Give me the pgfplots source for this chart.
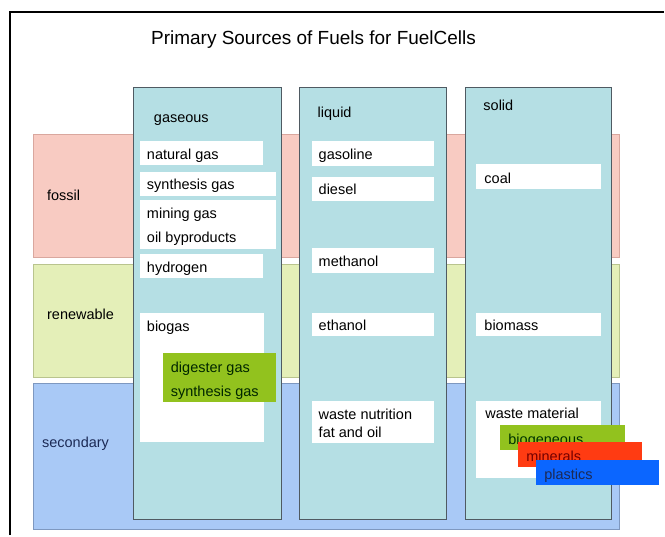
\documentclass[border=0pt]{standalone}
\usepackage{pgfplots}
\pgfplotsset{compat=1.18}
\usepackage{fontspec}
\setmainfont{Liberation Sans}
\definecolor{bandpink}{HTML}{F8CBC2}
\definecolor{bandpinkd}{HTML}{D9A79E}
\definecolor{bandgreen}{HTML}{E4EFB8}
\definecolor{bandgreend}{HTML}{B9C48E}
\definecolor{bandblue}{HTML}{A9C9F6}
\definecolor{bandblued}{HTML}{7E98C0}
\definecolor{colfill}{HTML}{B5DFE4}
\definecolor{coldraw}{HTML}{4F5A62}
\definecolor{limegreen}{HTML}{92C21E}
\definecolor{minred}{HTML}{FF3B12}
\definecolor{plasblue}{HTML}{0B66FF}
\definecolor{navytext}{HTML}{1C2A55}
\newcommand{\rect}[5]{\addplot[#1] coordinates {(#2,#3) (#4,#3) (#4,#5) (#2,#5)} -- cycle;}
\newcommand{\lab}[4][black]{\node[anchor=base west,inner sep=0pt,text=#1,font=\fontsize{14.5}{16}\selectfont] at (axis cs:#2,#3+5.5) {#4};}
\begin{document}
\begin{tikzpicture}
\begin{axis}[
  scale only axis, width=665pt, height=536pt,
  xmin=0, xmax=665, ymin=0, ymax=536, y dir=reverse,
  hide axis, clip=false,
  every axis plot/.append style={mark=none}
]
% background
\rect{fill=white, draw=none}{0}{0}{665}{536}
% outer border
\addplot[black, line width=2pt] coordinates {(10,536) (10,12) (665,12)};
% bands
\rect{fill=bandpink, draw=bandpinkd, line width=0.8pt}{33}{135}{620}{258}
\rect{fill=bandgreen, draw=bandgreend, line width=0.8pt}{33}{265}{620}{378}
\rect{fill=bandblue, draw=bandblued, line width=0.8pt}{33}{384}{620}{530}
% columns
\rect{fill=colfill, draw=coldraw, line width=0.9pt}{134}{88}{282}{520}
\rect{fill=colfill, draw=coldraw, line width=0.9pt}{300}{88}{447}{520}
\rect{fill=colfill, draw=coldraw, line width=0.9pt}{466}{88}{612}{520}
% white boxes: gaseous
\rect{fill=white, draw=none}{140}{141}{263}{165}
\rect{fill=white, draw=none}{140}{172}{276}{196}
\rect{fill=white, draw=none}{140}{200}{276}{249}
\rect{fill=white, draw=none}{140}{254}{263}{278}
\rect{fill=white, draw=none}{140}{313}{264}{443}
% liquid
\rect{fill=white, draw=none}{312}{141}{435}{166}
\rect{fill=white, draw=none}{312}{177}{435}{201}
\rect{fill=white, draw=none}{312}{248}{435}{273}
\rect{fill=white, draw=none}{312}{313}{435}{337}
\rect{fill=white, draw=none}{312}{402}{435}{444}
% solid
\rect{fill=white, draw=none}{477}{164}{602}{189}
\rect{fill=white, draw=none}{477}{313}{602}{337}
\rect{fill=white, draw=none}{477}{402}{602}{479}
% title
\node[anchor=base,inner sep=0pt,font=\fontsize{19}{21}\selectfont] at (axis cs:314,45) {Primary Sources of Fuels for FuelCells};
% row labels
\lab{47}{195}{fossil}
\lab{47}{314}{renewable}
\lab[navytext]{42}{443}{secondary}
% column headers
\lab{154}{117}{gaseous}
\lab{318}{112}{liquid}
\lab{484}{105}{solid}
% gaseous entries
\lab{147}{154}{natural gas}
\lab{147}{184}{synthesis gas}
\lab{147}{213}{mining gas}
\lab{147}{237}{oil byproducts}
\lab{147}{267}{hydrogen}
\lab{147}{326}{biogas}
\rect{fill=limegreen, draw=none}{163}{354}{276}{403}
\lab[black!85!green]{171}{368}{digester gas}
\lab[black!85!green]{171}{392}{synthesis gas}
% liquid entries
\lab{319}{154}{gasoline}
\lab{319}{189}{diesel}
\lab{319}{261}{methanol}
\lab{319}{325}{ethanol}
\lab{319}{415}{waste nutrition}
\lab{319}{433}{fat and oil}
% solid entries
\lab{485}{178}{coal}
\lab{485}{325}{biomass}
\lab{486}{414}{waste material}
\rect{fill=limegreen, draw=none}{501}{426}{626}{451}
\lab[black!80!green]{509}{440}{biogeneous}
\rect{fill=minred, draw=none}{519}{443}{643}{468}
\lab[red!45!black]{527}{457}{minerals}
\rect{fill=plasblue, draw=none}{537}{461}{660}{486}
\lab[navytext]{545}{475}{plastics}
\end{axis}
\end{tikzpicture}
\end{document}
